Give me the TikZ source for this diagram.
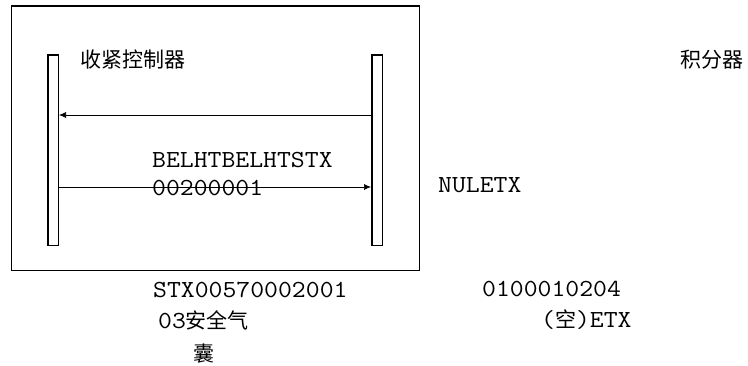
\documentclass[tikz,border=0pt]{standalone}
\usepackage{fontspec}
\setmonofont{Latin Modern Mono}[FakeStretch=1.1]
\newfontfamily\cjk{Noto Sans CJK SC}
\usetikzlibrary{arrows.meta}
\begin{document}
\begin{tikzpicture}[x=1pt,y=-1pt,
  frame/.style={draw,line width=1.6pt},
  lifeline/.style={draw,line width=1.5pt,minimum width=10.5pt,minimum height=190.5pt,inner sep=0pt},
  msg/.style={line width=0.7pt,-{Latex[length=7pt,width=6pt]}},
  mono/.style={inner sep=0pt,anchor=base west,font=\ttfamily\fontsize{24.5}{28}\selectfont},
  cjklabel/.style={inner sep=0pt,anchor=base west,font=\cjk\fontsize{21}{25}\selectfont}]
\useasboundingbox (0,0) rectangle (748,365);
\draw[frame] (11.5,6) rectangle (419.5,270.5);
\node[lifeline] (L) at (53,150) {};
\node[lifeline] (R) at (377,150) {};
\coordinate (m1) at (0,115);
\coordinate (m2) at (0,187);
\draw[msg] (R.west |- m1) -- (L.east |- m1);
\draw[msg] (L.east |- m2) -- (R.west |- m2);
\node[cjklabel] (ctrl) at (80,67) {收紧控制器};
\node[cjklabel] (integ) at (680,67) {积分器};
\node[mono] (t1) at (152,167) {BELHTBELHTSTX};
\node[mono] (t2) at (152,195) {00200001};
\node[mono] (t3) at (438,192) {NULETX};
\node[mono] (t4) at (153,297) {STX00570002001};
\node[mono] (t5) at (158,328) {03{\cjk\fontsize{21}{25}\selectfont 安全气}};
\node[cjklabel] (t6) at (193,361) {囊};
\node[mono] (t7) at (482,296) {0100010204};
\node[mono] (t8) at (541,327) {({\cjk\fontsize{21}{25}\selectfont 空})ETX};
\end{tikzpicture}
\end{document}
